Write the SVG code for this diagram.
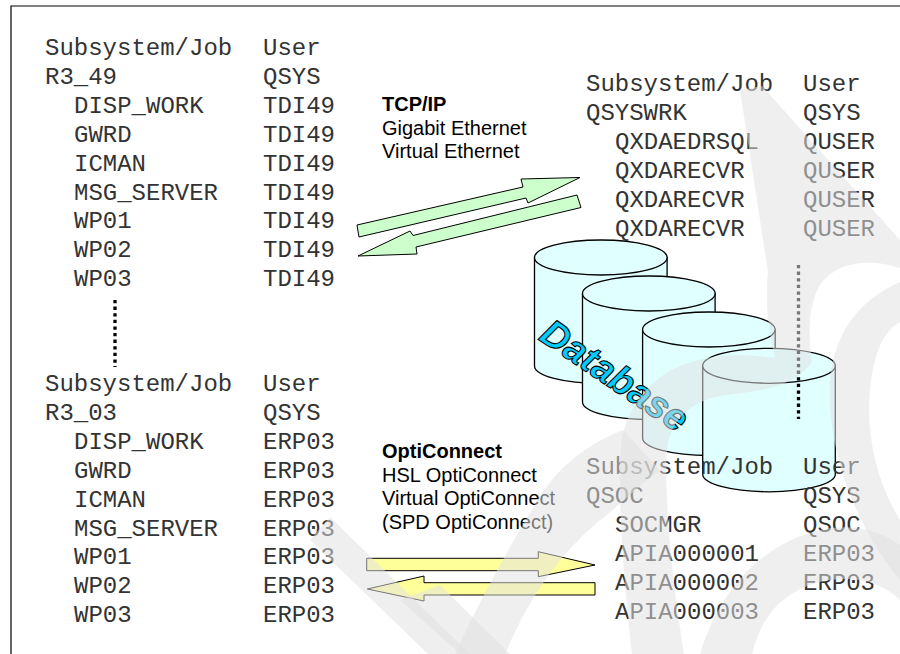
<svg xmlns="http://www.w3.org/2000/svg" width="900" height="654" viewBox="0 0 900 654">
  <style>
    .mono { font-family: "Liberation Mono", "Courier New", monospace; font-size: 24px; fill: #333; }
    .sans { font-family: "Liberation Sans", Arial, sans-serif; font-size: 20px; fill: #000; }
    .bold { font-weight: bold; }
    .cyl { fill: #e0ffff; stroke: #000; stroke-width: 1.3; }
    .dots { stroke: #000; stroke-width: 3.3; stroke-dasharray: 3.3 3.3; fill: none; }
    .garrow { fill: #ccffcc; stroke: #000; stroke-width: 1; }
    .yarrow { fill: #ffff99; stroke: #000; stroke-width: 1; }
    .wm { fill: #e0e0e0; fill-opacity: 0.53; }
  </style>

  <!-- frame -->
  <path d="M11,654 V6 H900" fill="none" stroke="#000" stroke-width="1.2"/>

  <!-- database cylinders -->
  <g id="database">
    <g id="cyl1">
      <path class="cyl" d="M534.5,257.5 V366 A66.3,17.5 0 0 0 667.1,366 V257.5 Z"/>
      <ellipse class="cyl" cx="600.8" cy="257.5" rx="66.3" ry="17.5"/>
    </g>
    <g id="cyl2">
      <path class="cyl" d="M582.5,293.5 V402 A66.3,17.5 0 0 0 715.1,402 V293.5 Z"/>
      <ellipse class="cyl" cx="648.8" cy="293.5" rx="66.3" ry="17.5"/>
    </g>
    <g id="cyl3">
      <path class="cyl" d="M642.6,329.5 V438 A66.3,17.5 0 0 0 775.2,438 V329.5 Z"/>
      <ellipse class="cyl" cx="708.9" cy="329.5" rx="66.3" ry="17.5"/>
    </g>
    <g id="cyl4">
      <path class="cyl" d="M702.7,365.8 V474.3 A66.3,17.5 0 0 0 835.3,474.3 V365.8 Z"/>
      <ellipse class="cyl" cx="769" cy="365.8" rx="66.3" ry="17.5"/>
    </g>
    <text transform="translate(615,375) rotate(34)" x="0" y="13.5" text-anchor="middle"
          font-family="Liberation Sans, Arial, sans-serif" font-size="38" font-weight="bold" font-style="italic"
          fill="#00ccff" stroke="#000" stroke-width="1.1">Database</text>
  </g>

  <!-- job tables -->
  <g id="jobs-r3-49" class="mono">
    <text x="45" y="55">Subsystem/Job</text><text x="263" y="55">User</text>
    <text x="45" y="83.9">R3_49</text><text x="263" y="83.9">QSYS</text>
    <text x="74" y="112.8">DISP_WORK</text><text x="263" y="112.8">TDI49</text>
    <text x="74" y="141.7">GWRD</text><text x="263" y="141.7">TDI49</text>
    <text x="74" y="170.6">ICMAN</text><text x="263" y="170.6">TDI49</text>
    <text x="74" y="199.5">MSG_SERVER</text><text x="263" y="199.5">TDI49</text>
    <text x="74" y="228.4">WP01</text><text x="263" y="228.4">TDI49</text>
    <text x="74" y="257.3">WP02</text><text x="263" y="257.3">TDI49</text>
    <text x="74" y="286.2">WP03</text><text x="263" y="286.2">TDI49</text>
  </g>

  <g id="jobs-r3-03" class="mono">
    <text x="45" y="391">Subsystem/Job</text><text x="263" y="391">User</text>
    <text x="45" y="419.9">R3_03</text><text x="263" y="419.9">QSYS</text>
    <text x="74" y="448.8">DISP_WORK</text><text x="263" y="448.8">ERP03</text>
    <text x="74" y="477.7">GWRD</text><text x="263" y="477.7">ERP03</text>
    <text x="74" y="506.6">ICMAN</text><text x="263" y="506.6">ERP03</text>
    <text x="74" y="535.5">MSG_SERVER</text><text x="263" y="535.5">ERP03</text>
    <text x="74" y="564.4">WP01</text><text x="263" y="564.4">ERP03</text>
    <text x="74" y="593.3">WP02</text><text x="263" y="593.3">ERP03</text>
    <text x="74" y="622.2">WP03</text><text x="263" y="622.2">ERP03</text>
  </g>

  <g id="jobs-qsyswrk" class="mono">
    <text x="586" y="91">Subsystem/Job</text><text x="803" y="91">User</text>
    <text x="586" y="119.9">QSYSWRK</text><text x="803" y="119.9">QSYS</text>
    <text x="615" y="148.8">QXDAEDRSQL</text><text x="803" y="148.8">QUSER</text>
    <text x="615" y="177.7">QXDARECVR</text><text x="803" y="177.7">QUSER</text>
    <text x="615" y="206.6">QXDARECVR</text><text x="803" y="206.6">QUSER</text>
    <text x="615" y="235.5">QXDARECVR</text><text x="803" y="235.5">QUSER</text>
  </g>

  <g id="jobs-qsoc" class="mono">
    <text x="586" y="474">Subsystem/Job</text><text x="803" y="474">User</text>
    <text x="586" y="502.9">QSOC</text><text x="803" y="502.9">QSYS</text>
    <text x="615" y="531.8">SOCMGR</text><text x="803" y="531.8">QSOC</text>
    <text x="615" y="560.7">APIA000001</text><text x="803" y="560.7">ERP03</text>
    <text x="615" y="589.6">APIA000002</text><text x="803" y="589.6">ERP03</text>
    <text x="615" y="618.5">APIA000003</text><text x="803" y="618.5">ERP03</text>
  </g>

  <!-- continuation marks -->
  <g id="continuation">
    <line class="dots" x1="115" y1="300" x2="115" y2="367"/>
    <line class="dots" x1="798.5" y1="265" x2="798.5" y2="419"/>
  </g>

  <!-- link labels -->
  <g id="label-tcpip" class="sans">
    <text x="382" y="110.5" class="bold">TCP/IP</text>
    <text x="382" y="134.5">Gigabit Ethernet</text>
    <text x="382" y="158">Virtual Ethernet</text>
  </g>
  <g id="label-opticonnect" class="sans">
    <text x="382" y="458" class="bold">OptiConnect</text>
    <text x="382" y="481.5">HSL OptiConnect</text>
    <text x="382" y="505">Virtual OptiConnect</text>
    <text x="382" y="528.5">(SPD OptiConnect)</text>
  </g>

  <!-- connectors -->
  <g id="connectors">
    <polygon class="garrow" points="357,225 523,187 521,179 580,177.5 528,203 526,198 359,237"/>
    <polygon class="garrow" points="358,256 410,231 413,235.5 577,195 581,207.5 416,247 417,254"/>
    <polygon class="yarrow" points="366.7,558.3 538.3,558.3 538.3,551.7 595,565 538.3,576.7 538.3,570.7 366.7,570.7"/>
    <polygon class="yarrow" points="367.3,589 424,576 424,582.7 595,582.7 595,595 424,595 424,601"/>
  </g>

  <!-- background draft watermark strokes -->
  <g id="watermark">
    <path class="wm" d="M740,90 L762,86 L900,240 L900,268 C868,258 836,262 820,285 C808,305 808,335 812,362 L775,358 C768,330 765,300 768,272 Z"/>
    <path class="wm" d="M775,358 C735,352 695,356 668,372 C640,390 625,415 621,445 C618,500 622,560 632,654 L684,654 C672,580 664,500 667,450 C670,420 690,402 720,396 C750,391 790,392 812,362 Z"/>
    <path class="wm" d="M900,282 C860,300 835,330 830,380 C826,440 850,520 900,580 L900,520 C875,480 866,430 870,390 C874,350 885,330 900,322 Z"/>
    <path class="wm" d="M623,430 C585,445 555,470 538,500 C510,545 480,600 455,654 L505,654 C528,600 558,555 598,522 C620,505 640,485 660,470 Z"/>
    <path class="wm" d="M310,540 L330,517 L470,654 L428,654 Z"/>
    <path class="wm" d="M400,600 L440,585 L510,654 L460,654 Z"/>
    <path class="wm" d="M700,654 C720,590 760,545 820,530 C850,523 880,530 900,545 L900,600 C880,580 850,575 820,582 C780,592 760,620 752,654 Z"/>
  </g>
</svg>
